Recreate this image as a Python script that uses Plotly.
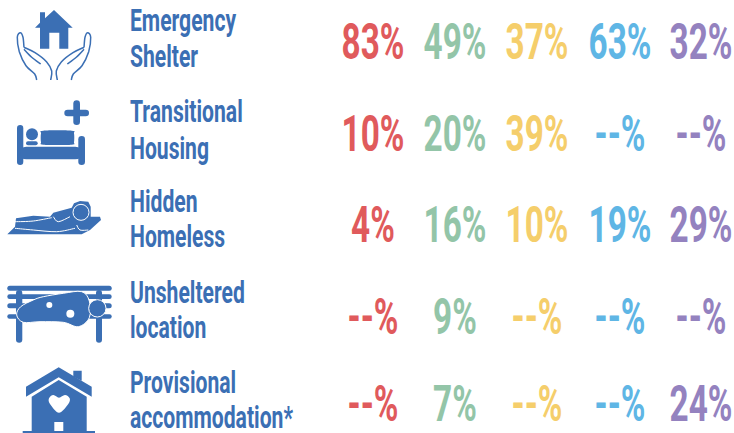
import plotly.graph_objects as go

# ---- data ----
column_names = ["A", "B", "C", "D", "E"]
column_colors = ["#E05A5C", "#93C5A8", "#F5CE6B", "#5FB6E5", "#9482BF"]
row_labels = [["Emergency", "Shelter"], ["Transitional", "Housing"], ["Hidden", "Homeless"],
              ["Unsheltered", "location"], ["Provisional", "accommodation*"]]
values_a = ["83%", "10%", "4%", "--%", "--%"]
values_b = ["49%", "20%", "16%", "9%", "7%"]
values_c = ["37%", "39%", "10%", "--%", "--%"]
values_d = ["63%", "--%", "19%", "--%", "--%"]
values_e = ["32%", "--%", "29%", "--%", "24%"]
all_values = [values_a, values_b, values_c, values_d, values_e]

# ---- layout constants ----
W, H = 734, 433
BLUE = "#3B6FB4"
FONT = "Roboto"
col_x = [373, 455, 537, 620, 701]
row_y = [47, 139, 230, 322, 409]
label_x = 130
label_y = [[23, 59], [114, 151], [204, 239], [295, 330], [385, 420]]
VALUE_SCALE, LABEL_SCALE = 0.68, 0.66


def catmull(pts, closed=False):
    n = len(pts)
    d = f"M{pts[0][0]:.1f} {pts[0][1]:.1f}"
    last = n if closed else n - 1
    for i in range(last):
        if closed:
            p0, p1, p2, p3 = pts[(i - 1) % n], pts[i], pts[(i + 1) % n], pts[(i + 2) % n]
        else:
            p0, p1, p2, p3 = pts[max(i - 1, 0)], pts[i], pts[i + 1], pts[min(i + 2, n - 1)]
        c1 = (p1[0] + (p2[0] - p0[0]) / 6, p1[1] + (p2[1] - p0[1]) / 6)
        c2 = (p2[0] - (p3[0] - p1[0]) / 6, p2[1] - (p3[1] - p1[1]) / 6)
        d += f" C{c1[0]:.1f} {c1[1]:.1f} {c2[0]:.1f} {c2[1]:.1f} {p2[0]:.1f} {p2[1]:.1f}"
    return d + (" Z" if closed else "")


def z(points, oy=0):
    """zoomed-crop coordinates to page pixels"""
    return [(x / 3, oy + y / 3) for x, y in points]


def poly(points, oy=0):
    pts = z(points, oy)
    return "M" + " L".join(f"{x:.1f} {y:.1f}" for x, y in pts) + " Z"


shapes = []


def fill(path, color=BLUE, lw=0, lc=None):
    shapes.append(dict(type="path", path=path, fillcolor=color, xref="x", yref="y", layer="above",
                       line=dict(width=lw, color=lc or color)))


def stroke(path, color=BLUE, lw=1.5):
    shapes.append(dict(type="path", path=path, xref="x", yref="y", layer="above",
                       line=dict(width=lw, color=color)))


def disc(cx, cy, r, oy=0, color=BLUE, lw=0, lc="#FFFFFF"):
    shapes.append(dict(type="circle", x0=(cx - r) / 3, x1=(cx + r) / 3, y0=oy + (cy - r) / 3,
                       y1=oy + (cy + r) / 3, xref="x", yref="y", fillcolor=color, layer="above",
                       line=dict(width=lw, color=lc)))


def bar(x0, y0, x1, y1, oy=0, color=BLUE):
    """rounded-end bar"""
    r = min(abs(x1 - x0), abs(y1 - y0)) / 6
    a, b, c, d = x0 / 3, x1 / 3, oy + y0 / 3, oy + y1 / 3
    fill(f"M{a+r:.1f} {c:.1f} L{b-r:.1f} {c:.1f} Q{b:.1f} {c:.1f} {b:.1f} {c+r:.1f} L{b:.1f} {d-r:.1f} "
         f"Q{b:.1f} {d:.1f} {b-r:.1f} {d:.1f} L{a+r:.1f} {d:.1f} Q{a:.1f} {d:.1f} {a:.1f} {d-r:.1f} "
         f"L{a:.1f} {c+r:.1f} Q{a:.1f} {c:.1f} {a+r:.1f} {c:.1f} Z", color)


# --- Icon 1: house in hands
fill(poly([(162, 30), (218, 83), (205, 83), (205, 146), (178, 146), (178, 98), (148, 98), (148, 146),
           (120, 146), (120, 83), (105, 83), (120, 68), (120, 37), (135, 37), (135, 55)]))
left_outer = [(110, 240), (104, 222), (78, 197), (58, 155), (52, 112), (61, 98), (69, 112), (72, 142)]
left_inner = [(72, 142), (105, 158), (140, 186), (155, 213), (152, 240)]
left_finger = [(72, 148), (95, 172), (122, 192)]
for line in (left_outer, left_inner, left_finger):
    stroke(catmull(z(line)))
    stroke(catmull(z([(324 - x, y) for x, y in line])))

# --- Icon 2: bed
bar(51, 375, 70, 495)
bar(235, 408, 255, 495)
bar(60, 440, 245, 478)
disc(96, 403, 18)
bar(78, 424, 113, 436)
fill(catmull(z([(130, 392), (215, 392), (222, 400), (222, 427), (215, 434), (130, 434), (123, 427), (123, 400)]), True))
bar(193, 329, 267, 349)
bar(220, 301, 240, 375)

# --- Icon 3: sleeping person
fill(poly([(22, 178), (45, 155), (48, 130), (100, 122), (150, 125), (160, 113), (215, 98), (222, 85), (240, 78),
           (265, 80), (272, 95), (272, 125), (300, 125), (303, 135), (270, 165), (245, 178)], 175))
stroke(catmull(z([(45, 140), (100, 138), (155, 128)], 175)), "#FFFFFF", 1)
stroke(catmull(z([(45, 160), (100, 165), (170, 170), (225, 160)], 175)), "#FFFFFF", 1)
stroke(catmull(z([(160, 125), (175, 140), (210, 125)], 175)), "#FFFFFF", 1)
stroke(catmull(z([(230, 150), (240, 165), (265, 165)], 175)), "#FFFFFF", 1)
disc(243, 112, 24, 175, lw=1)

# --- Icon 4: bench sleeper
for top, bot in [(332, 347), (358, 372), (385, 400), (418, 431)]:
    bar(22, top, 335, bot, 175)
bar(48, 345, 67, 503, 175)
bar(288, 345, 306, 503, 175)
fill(catmull(z([(50, 420), (62, 395), (100, 375), (130, 365), (190, 355), (245, 350), (268, 378), (268, 428),
                (235, 455), (190, 442), (120, 440), (70, 442)], 175), True), lw=1, lc="#FFFFFF")
disc(292, 400, 26, 175, lw=1)
disc(148, 390, 9, 175, "#FFFFFF")
disc(211, 416, 12, 175, "#FFFFFF")

# --- Icon 5: house with heart
fill(poly([(220, 62), (245, 62), (245, 92), (220, 80)], 350))
fill(poly([(176, 52), (275, 110), (275, 140), (176, 82), (78, 140), (78, 110)], 350))
fill(poly([(176, 90), (260, 140), (260, 243), (285, 243), (285, 249), (68, 249), (68, 243), (95, 243), (95, 140)], 350))
fill(poly([(163, 216), (190, 216), (190, 243), (163, 243)], 350), "#FFFFFF")
fill(catmull(z([(177, 188), (150, 162), (147, 145), (160, 135), (177, 143), (195, 135), (209, 145), (205, 162)], 350), True), "#FFFFFF")

# ---- traces ----
fig = go.Figure()
for vals, x, color in zip(all_values, col_x, column_colors):
    fig.add_trace(go.Scatter(x=[x] * len(vals), y=row_y, text=vals, mode="text", textposition="middle center",
                             textfont=dict(family=FONT, size=49, color=color, weight="bold"),
                             hoverinfo="skip", showlegend=False, cliponaxis=False))
lab_y = [y for pair in label_y for y in pair]
lab_t = [t for pair in row_labels for t in pair]
fig.add_trace(go.Scatter(x=[label_x] * len(lab_t), y=lab_y, text=lab_t, mode="text", textposition="middle right",
                         textfont=dict(family=FONT, size=32, color=BLUE, weight="bold"),
                         hoverinfo="skip", showlegend=False, cliponaxis=False))
fig.update_layout(width=W, height=H, margin=dict(l=0, r=0, t=0, b=0), paper_bgcolor="white", plot_bgcolor="white",
                  xaxis=dict(range=[0, W], visible=False, fixedrange=True),
                  yaxis=dict(range=[H, 0], visible=False, fixedrange=True), shapes=shapes)

post = """
document.body.style.margin = '0';
var gd = document.getElementById('{plot_id}');
gd.querySelectorAll('.textpoint text').forEach(function (t) {
  var lab = t.getAttribute('text-anchor') === 'start';
  var s = lab ? %s : %s;
  var b = t.getBBox();
  var c = lab ? b.x : b.x + b.width / 2;
  t.setAttribute('transform', 'translate(' + c + ',0) scale(' + s + ',1) translate(' + (-c) + ',0)');
});
""" % (LABEL_SCALE, VALUE_SCALE)
fig.write_html("out.html", post_script=post, config={"displayModeBar": False})
